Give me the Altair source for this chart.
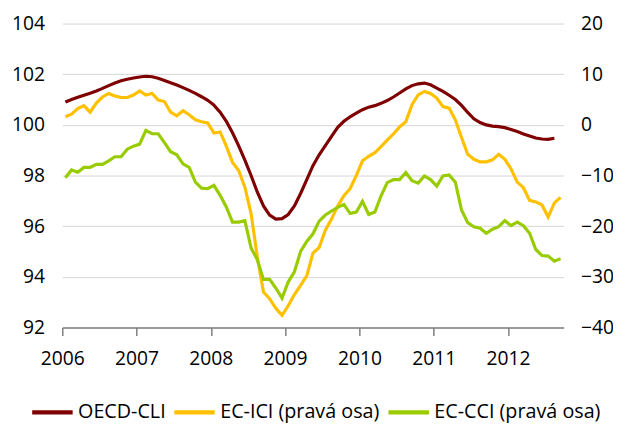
import altair as alt
import pandas as pd

# Monthly data Jan 2006 - Sep 2012
months = [f"{y}-{m:02d}" for y in range(2006, 2013) for m in range(1, 13)][:81]
year_labels = ["2006", "2007", "2008", "2009", "2010", "2011", "2012"]

# OECD-CLI (left axis), Jan 2006 - Aug 2012
oecd_cli = [
    100.90, 101.00, 101.09, 101.17, 101.25, 101.34, 101.44, 101.55, 101.65, 101.74,
    101.80, 101.85, 101.89, 101.92, 101.90, 101.84, 101.75, 101.66, 101.57, 101.47,
    101.36, 101.24, 101.11, 100.97, 100.78, 100.50, 100.14, 99.69, 99.17, 98.61,
    98.00, 97.35, 96.80, 96.44, 96.28, 96.30, 96.46, 96.80, 97.29, 97.84,
    98.39, 98.82, 99.18, 99.55, 99.90, 100.14, 100.32, 100.46, 100.60, 100.70,
    100.76, 100.85, 100.96, 101.10, 101.26, 101.42, 101.55, 101.62, 101.65, 101.58,
    101.45, 101.32, 101.17, 101.00, 100.77, 100.49, 100.24, 100.09, 100.00, 99.95,
    99.93, 99.89, 99.82, 99.74, 99.64, 99.56, 99.48, 99.44, 99.43, 99.47,
]

# EC-ICI (right axis), Jan 2006 - Sep 2012
ec_ici = [
    1.6, 2.1, 3.2, 3.8, 2.5, 4.3, 5.5, 6.2, 5.7, 5.4,
    5.4, 5.9, 6.7, 5.9, 6.2, 4.9, 4.6, 2.5, 1.8, 2.8,
    2.0, 1.0, 0.6, 0.4, -1.6, -1.4, -4.2, -7.4, -9.0, -12.3,
    -17.5, -26.0, -33.0, -34.3, -36.2, -37.6, -35.7, -33.5, -31.7, -29.8,
    -25.3, -24.2, -20.8, -18.6, -16.0, -14.0, -12.6, -10.0, -7.1, -6.2,
    -5.5, -4.3, -3.0, -1.8, -0.4, 0.6, 4.0, 5.9, 6.6, 6.2,
    5.3, 3.6, 3.3, 1.0, -2.5, -5.8, -6.8, -7.3, -7.3, -6.9,
    -5.8, -6.8, -8.7, -11.3, -12.4, -14.9, -15.2, -15.8, -18.2, -15.4,
    -14.3,
]

# EC-CCI (right axis), Jan 2006 - Sep 2012
ec_cci = [
    -10.45, -8.9, -9.35, -8.4, -8.4, -7.8, -7.8, -7.1, -6.3, -6.3,
    -4.8, -4.2, -3.8, -1.1, -1.75, -1.75, -3.5, -5.3, -5.9, -7.7,
    -8.4, -11.3, -12.5, -12.6, -11.95, -13.9, -16.2, -19.2, -19.2, -18.9,
    -24.3, -26.6, -30.5, -30.5, -32.2, -34.2, -31.0, -29.0, -25.0, -23.0,
    -21.5, -19.0, -17.8, -17.0, -16.3, -15.7, -17.5, -17.2, -15.1, -17.7,
    -17.2, -14.0, -11.4, -10.8, -10.8, -9.4, -11.0, -11.5, -10.1, -10.8,
    -12.1, -10.1, -9.9, -11.3, -16.8, -19.3, -20.1, -20.4, -21.4, -20.6,
    -20.1, -18.9, -19.9, -19.2, -19.9, -21.4, -24.6, -25.8, -25.9, -26.9,
    -26.4,
]

series_names = ["OECD-CLI", "EC-ICI (pravá osa)", "EC-CCI (pravá osa)"]
series_colors = ["#7F0000", "#FFC000", "#99CC00"]

rows = []
for name, vals in zip(series_names, [oecd_cli, ec_ici, ec_cci]):
    for i, v in enumerate(vals):
        rows.append({"month": months[i], "t": i + 0.5, "series": name, "value": v})
df = pd.DataFrame(rows)

FONT = "Open Sans"

x_enc = alt.X(
    "t:Q",
    scale=alt.Scale(domain=[0, 81], nice=False, zero=False),
    axis=alt.Axis(
        title=None,
        values=[0, 12, 24, 36, 48, 60, 72],
        labelExpr=f"{year_labels}[round(datum.value / 12)]",
        grid=False,
        domain=True,
        domainColor="#7F7F7F",
        domainWidth=1.5,
        ticks=True,
        tickColor="#7F7F7F",
        tickWidth=1.5,
        tickSize=8,
        labelPadding=14,
        labelFontSize=19.5,
        labelFont=FONT,
        labelColor="#000000",
        labelFlush=False,
    ),
)

color_enc = alt.Color(
    "series:N",
    scale=alt.Scale(domain=series_names, range=series_colors),
    sort=series_names,
    legend=alt.Legend(
        title=None,
        orient="none",
        direction="horizontal",
        legendX=-33,
        legendY=371,
        symbolType="stroke",
        symbolSize=1681,
        symbolStrokeWidth=4.5,
        labelFontSize=20,
        labelFont=FONT,
        labelColor="#000000",
        labelOffset=3,
        labelLimit=400,
        columnPadding=-1,
    ),
)

left = (
    alt.Chart(df)
    .transform_filter(alt.datum.series == "OECD-CLI")
    .mark_line(strokeWidth=3.2)
    .encode(
        x=x_enc,
        y=alt.Y(
            "value:Q",
            scale=alt.Scale(domain=[92, 104], nice=False, zero=False),
            axis=alt.Axis(
                title=None,
                orient="left",
                values=[92, 94, 96, 98, 100, 102, 104],
                grid=True,
                gridColor="#D4D4D4",
                gridWidth=1,
                domain=False,
                ticks=False,
                labelPadding=18,
                labelFontSize=19.5,
                labelFont=FONT,
                labelColor="#000000",
            ),
        ),
        color=color_enc,
        detail="series:N",
    )
)

right = (
    alt.Chart(df)
    .transform_filter(alt.datum.series != "OECD-CLI")
    .mark_line(strokeWidth=3.2)
    .encode(
        x=x_enc,
        y=alt.Y(
            "value:Q",
            scale=alt.Scale(domain=[-40, 20], nice=False, zero=False),
            axis=alt.Axis(
                title=None,
                orient="right",
                values=[-40, -30, -20, -10, 0, 10, 20],
                grid=False,
                domain=False,
                ticks=False,
                labelPadding=17,
                labelFontSize=19.5,
                labelFont=FONT,
                labelColor="#000000",
            ),
        ),
        color=color_enc,
        detail="series:N",
    )
)

chart = (
    alt.layer(left, right)
    .resolve_scale(y="independent")
    .properties(
        width=508,
        height=308,
        autosize=alt.AutoSizeParams(type="none"),
        padding={"left": 55, "top": 13, "right": 50, "bottom": 94},
        background="white",
    )
    .configure_view(stroke=None)
)

chart.save("out.html", embed_options={"renderer": "svg", "actions": False})
